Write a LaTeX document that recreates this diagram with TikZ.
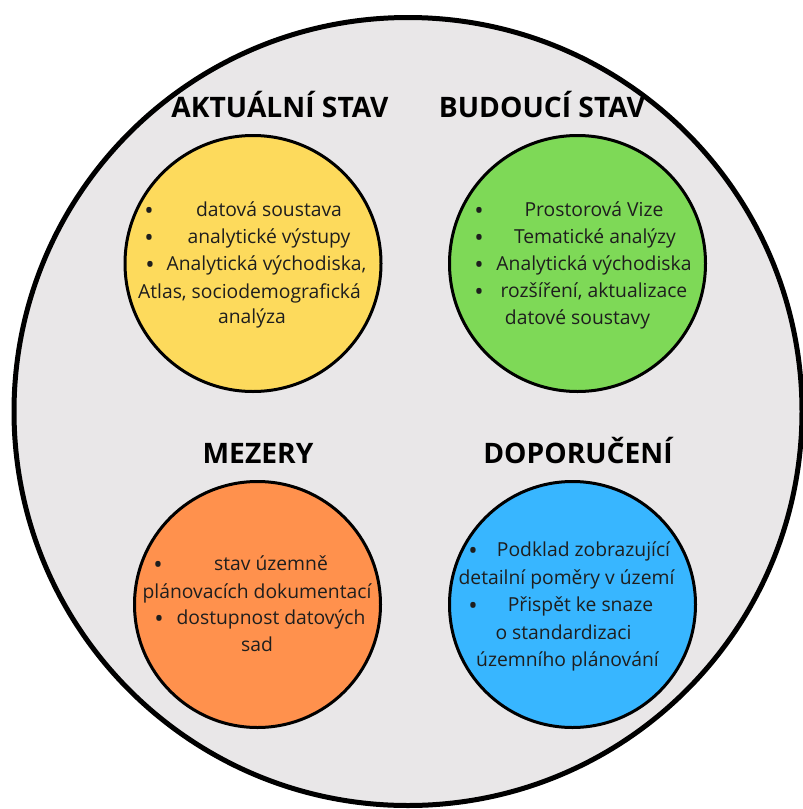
\documentclass[tikz,border=0pt]{standalone}
\usepackage{fontspec}
\setmainfont{Open Sans}
\definecolor{bggray}{HTML}{E9E7E8}
\definecolor{cyellow}{HTML}{FDDA5C}
\definecolor{cgreen}{HTML}{7ED957}
\definecolor{corange}{HTML}{FF914D}
\definecolor{cblue}{HTML}{38B6FF}
\definecolor{txtcol}{HTML}{1E1E1E}
\begin{document}
\begin{tikzpicture}[x=1pt,y=-1pt,
  txt/.style={font=\fontsize{19.3}{23}\selectfont, text=txtcol, inner sep=0pt, anchor=base},
  bul/.style={font=\fontsize{25}{28}\selectfont, text=txtcol, inner sep=0pt, anchor=base},
  head/.style={font=\fontsize{28.2}{33}\selectfont\bfseries, text=black, inner sep=0pt, anchor=base},
  blob/.style={circle, draw=black, line width=3pt, inner sep=0pt, minimum size=#1}]
\useasboundingbox (0,0) rectangle (803,809);
\clip (0,0) rectangle (803,809);
\fill[white] (0,0) rectangle (803,809);
\node[circle, fill=bggray, draw=black, line width=5pt, inner sep=0pt, minimum size=788pt] (outer) at (408,411.5) {};
% circles
\node[blob=256pt, fill=cyellow] (yellow) at (253,263.5) {};
\node[blob=256pt, fill=cgreen] (green) at (577.5,263.5) {};
\node[blob=246pt, fill=corange] (orange) at (257.5,604.5) {};
\node[blob=246pt, fill=cblue] (blue) at (572.5,604.5) {};
% headings
\node[head] (h1) at (280,117.5) {AKTUÁLNÍ STAV};
\node[head] (h2) at (542,117.5) {BUDOUCÍ STAV};
\node[head] (h3) at (258,463) {MEZERY};
\node[head] (h4) at (578,463) {DOPORUČENÍ};
% yellow text
\node[bul] (y1b) at (149,219) {•};
\node[txt] (y1) at (269,216) {datová soustava};
\node[bul] (y2b) at (149,246) {•};
\node[txt] (y2) at (269,243) {analytické výstupy};
\node[bul] (y3b) at (150,273) {•};
\node[txt] (y3) at (266.5,270) {Analytická východiska,};
\node[txt] (y4) at (249.5,298) {Atlas, sociodemografická};
\node[txt] (y5) at (252,323) {analýza};
% green text
\node[bul] (g1b) at (479,219) {•};
\node[txt] (g1) at (594,216) {Prostorová Vize};
\node[bul] (g2b) at (479,246) {•};
\node[txt] (g2) at (595,243) {Tematické analýzy};
\node[bul] (g3b) at (479,273) {•};
\node[txt] (g3) at (594,270) {Analytická východiska};
\node[bul] (g4b) at (479,300) {•};
\node[txt] (g4) at (594,297) {rozšíření, aktualizace};
\node[txt] (g5) at (577.5,324) {datové soustavy};
% orange text
\node[bul] (o1b) at (158,573) {•};
\node[txt] (o1) at (271,570) {stav územně};
\node[txt] (o2) at (257,598) {plánovacích dokumentací};
\node[bul] (o3b) at (159,627) {•};
\node[txt] (o3) at (271,624) {dostupnost datových};
\node[txt] (o4) at (257,651) {sad};
% blue text
\node[bul] (b1b) at (473,559) {•};
\node[txt] (b1) at (583.5,556) {Podklad zobrazující};
\node[txt] (b2) at (566.5,584) {detailní poměry v území};
\node[bul] (b3b) at (473,614) {•};
\node[txt] (b3) at (580.5,611) {Přispět ke snaze};
\node[txt] (b4) at (563.5,639) {o standardizaci};
\node[txt] (b5) at (567.5,666) {územního plánování};
\end{tikzpicture}
\end{document}
